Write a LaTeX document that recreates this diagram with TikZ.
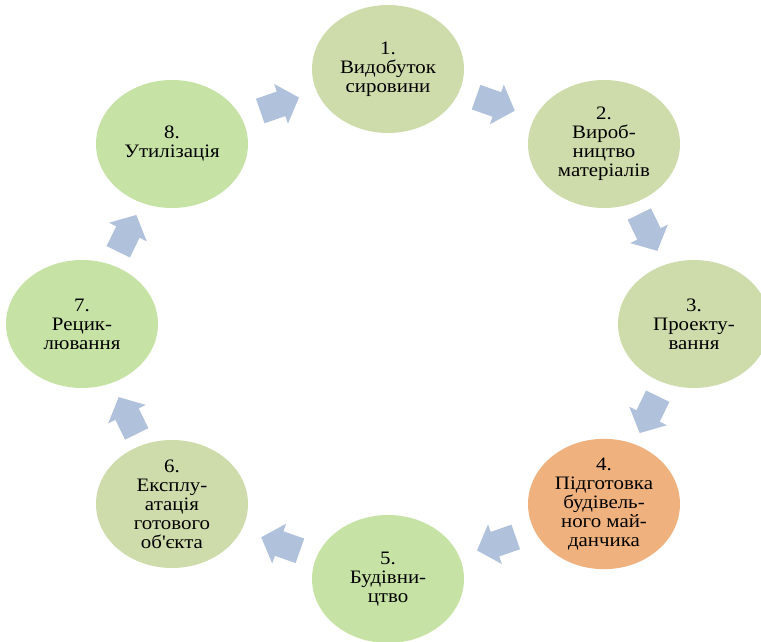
\documentclass[tikz,border=0pt]{standalone}
\usepackage{fontspec}
\setmainfont{Liberation Serif}[FakeStretch=1.1]
\usetikzlibrary{shapes.geometric}

\definecolor{stagegreen}{HTML}{C6E2A5}
\definecolor{stageolive}{HTML}{CEDBAA}
\definecolor{stageorange}{HTML}{EFB27F}
\definecolor{arrowblue}{HTML}{B0C1DC}

\tikzset{
  stage/.style={ellipse, minimum width=152pt, minimum height=128pt, inner sep=0pt,
    align=center, font=\fontsize{19}{19}\selectfont},
  blockarrow/.pic={
    \fill[arrowblue] (-21,-13) -- (1,-13) -- (1,-21) -- (20,0) -- (1,21) -- (1,13) -- (-21,13) -- cycle;
  }
}

\begin{document}
\begin{tikzpicture}[x=1pt, y=1pt]
    \useasboundingbox (0,0) rectangle (761,642);

    \node[stage, fill=stageolive] (s1) at (388,573) {1.\\Видобуток\\сировини};
    \node[stage, fill=stageolive] (s2) at (604,498) {2.\\Вироб-\\ництво\\матеріалів};
    \node[stage, fill=stageolive] (s3) at (694,318) {3.\\Проекту-\\вання};
    \node[stage, fill=stageorange] (s4) at (604,138) {4.\\Підготовка\\будівель-\\ного май-\\данчика};
    \node[stage, fill=stagegreen] (s5) at (388,63) {5.\\Будівни-\\цтво};
    \node[stage, fill=stageolive] (s6) at (172,138) {6.\\Експлу-\\атація\\готового\\об\textquotesingle єкта};
    \node[stage, fill=stagegreen] (s7) at (82,318) {7.\\Рецик-\\лювання};
    \node[stage, fill=stagegreen] (s8) at (172,498) {8.\\Утилізація};

    \foreach \a in {67.5,22.5,-22.5,-67.5,-112.5,-157.5,-202.5,-247.5} {
        \pgfmathsetmacro\dir{atan2(-238*cos(\a), 282*sin(\a))}
        \pic[rotate=\dir] at ({388+282*cos(\a)}, {318+238*sin(\a)}) {blockarrow};
    }
\end{tikzpicture}
\end{document}
